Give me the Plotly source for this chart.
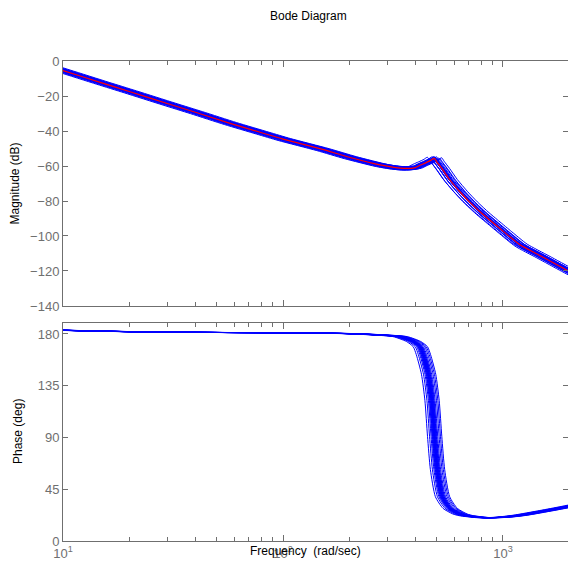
import plotly.graph_objects as go

# Nominal frequency response (rad/sec, dB, deg)
mag_freq = [8, 10, 15, 20, 30, 40, 57, 80, 100, 150, 200, 276, 320, 360, 400,
            420, 445, 470, 487, 500, 530, 574, 640, 708, 800, 873, 1000, 1194,
            1500, 1945, 2500]
mag_db = [-1.7, -5.5, -12.5, -17.4, -24.4, -29.3, -35.5, -41.0, -44.6, -50.4,
          -55.0, -59.4, -60.8, -61.4, -60.9, -59.6, -58.2, -56.8, -55.6, -57.6,
          -61.8, -68.0, -75.0, -80.8, -87.0, -91.0, -97.2, -105.0, -111.7,
          -119.4, -126.6]

ph_freq = [8, 10, 20, 50, 100, 200, 276, 340, 391, 420, 434, 458, 475, 488,
           503, 530, 574, 636, 680, 813, 902, 1000, 1194, 1580, 1975, 2500]
ph_deg = [183.8, 183.2, 182.0, 181.3, 181.0, 180.3, 179.1, 177.7, 173.5, 169.0,
          162.0, 145.0, 122.0, 91.0, 62.0, 38.5, 28.4, 23.5, 22.0, 20.3, 20.3,
          20.7, 22.4, 26.5, 30.0, 34.0]

# Perturbed plant set: resonance scale factor and gain offset (dB) per member
freq_scale = [0.93, 0.95, 0.965, 0.975, 0.98, 0.985, 0.99, 0.993, 0.997, 1.0,
              1.003, 1.007, 1.01, 1.015, 1.02, 1.025, 1.035, 1.05, 1.065, 1.08]
gain_offset = [0.6, -0.8, 0.3, -0.5, 0.9, -1.0, 0.2, 0.7, -0.3, 1.0,
               -0.6, 0.4, -0.9, 0.5, -0.2, 0.8, -0.7, 0.1, -0.4, 0.3]

mag_ticks = [0, -20, -40, -60, -80, -100, -120, -140]
phase_ticks = [0, 45, 90, 135, 180]
decade_ticks = [10, 100, 1000]
decade_text = ["10<sup>1</sup>", "10<sup>2</sup>", "10<sup>3</sup>"]
minor_ticks = [20, 30, 40, 50, 60, 70, 80, 90, 200, 300, 400, 500, 600, 700,
               800, 900, 2000]

BLUE = "#0000ff"
RED = "#ff0000"
AXIS = "#6f6f6f"
FONT = "Liberation Sans, Arial, Helvetica, sans-serif"

fig = go.Figure()

for k, g in zip(freq_scale, gain_offset):
    fig.add_trace(go.Scatter(
        x=[f * k for f in mag_freq], y=[m + g for m in mag_db],
        mode="lines", line=dict(color=BLUE, width=1, shape="spline", smoothing=0.6),
        xaxis="x", yaxis="y", showlegend=False, hoverinfo="skip"))
    fig.add_trace(go.Scatter(
        x=[f * k for f in ph_freq], y=ph_deg,
        mode="lines", line=dict(color=BLUE, width=1, shape="spline", smoothing=0.6),
        xaxis="x2", yaxis="y2", showlegend=False, hoverinfo="skip"))

fig.add_trace(go.Scatter(
    x=mag_freq, y=mag_db, mode="lines",
    line=dict(color=RED, width=1.2, shape="spline", smoothing=0.6),
    xaxis="x", yaxis="y", showlegend=False, hoverinfo="skip"))

common_x = dict(
    type="log", range=[1, 3.2955], showline=True, linecolor=AXIS, linewidth=1,
    mirror="ticks", ticks="inside", ticklen=6, tickcolor=AXIS,
    tickvals=decade_ticks, showgrid=False, zeroline=False,
    minor=dict(tickmode="array", tickvals=minor_ticks, ticks="inside",
               ticklen=4, tickcolor=AXIS, showgrid=False),
)
common_y = dict(
    showline=True, linecolor=AXIS, linewidth=1, mirror="ticks",
    ticks="inside", ticklen=5, tickcolor=AXIS, showgrid=False, zeroline=False,
    tickfont=dict(size=13, color=AXIS, family=FONT),
)

fig.update_layout(
    width=568, height=566,
    margin=dict(l=63, r=0, t=61, b=25),
    plot_bgcolor="white", paper_bgcolor="white",
    font=dict(family=FONT, size=12, color="black"),
    xaxis=dict(common_x, domain=[0, 1], anchor="y", showticklabels=False),
    yaxis=dict(common_y, domain=[0.4896, 1], range=[-140, 0],
               tickvals=mag_ticks, anchor="x"),
    xaxis2=dict(common_x, domain=[0, 1], anchor="y2", matches="x",
                ticktext=decade_text, showticklabels=True,
                tickfont=dict(size=13, color=AXIS, family=FONT)),
    yaxis2=dict(common_y, domain=[0, 0.4548], range=[0, 189.8],
                tickvals=phase_ticks, anchor="x2"),
    annotations=[
        dict(text="Bode Diagram", xref="paper", yref="paper",
             x=(308 - 63) / 505, y=(541 - 16) / 480, xanchor="center",
             yanchor="middle", showarrow=False, font=dict(size=12, color="black")),
        dict(text="Magnitude (dB)", xref="paper", yref="paper",
             x=(14 - 63) / 505, y=(541 - 183.5) / 480, xanchor="center",
             yanchor="middle", textangle=-90, showarrow=False,
             font=dict(size=12, color="black")),
        dict(text="Phase (deg)", xref="paper", yref="paper",
             x=(18 - 63) / 505, y=(541 - 432) / 480, xanchor="center",
             yanchor="middle", textangle=-90, showarrow=False,
             font=dict(size=12, color="black")),
        dict(text="Frequency  (rad/sec)", xref="paper", yref="paper",
             x=(305.5 - 63) / 505, y=(541 - 551) / 480, xanchor="center",
             yanchor="middle", showarrow=False, font=dict(size=12, color="black")),
    ],
)

fig.write_html("out.html")
